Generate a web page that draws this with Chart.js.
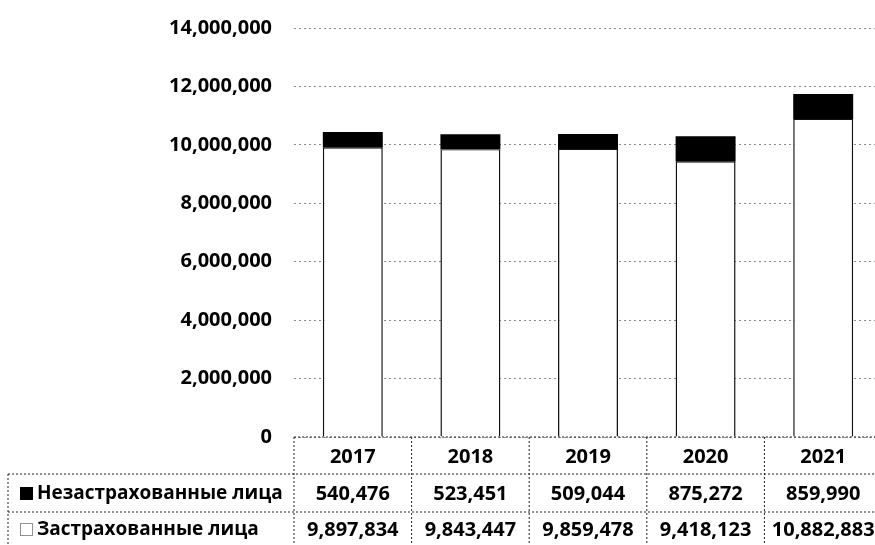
<!DOCTYPE html>
<html lang="ru">
<head>
    <meta charset="UTF-8">
    <title>Застрахованные и незастрахованные лица</title>
    <style>
        html, body {
            margin: 0;
            padding: 0;
            background: #ffffff;
            overflow: hidden;
        }
        #wrap {
            width: 882px;
            height: 545px;
            position: relative;
        }
    </style>
</head>
<body>

<div id="wrap">
    <canvas id="insuranceChart"></canvas>
</div>

<script src="https://cdn.jsdelivr.net/npm/chart.js"></script>
<script>
    // Years and values for each group
    const years = ['2017', '2018', '2019', '2020', '2021'];
    const insured = [9897834, 9843447, 9859478, 9418123, 10882883];
    const uninsured = [540476, 523451, 509044, 875272, 859990];
    const seriesNames = ['Незастрахованные лица', 'Застрахованные лица'];
    const yTicks = [0, 2000000, 4000000, 6000000, 8000000, 10000000, 12000000, 14000000];

    const FONT = '"Open Sans", "Noto Sans", sans-serif';
    const fmt = v => v.toLocaleString('en-US');

    // Data table under the plot: years row plus one row per series
    const dataTable = {
        id: 'dataTable',
        afterDraw(chart) {
            const ctx = chart.ctx;
            const x = chart.scales.x;
            const area = chart.chartArea;
            const colW = x.width / years.length;
            const tableLeft = 8;
            const rowTop = [area.bottom, 474, 512];
            const rowMid = [457, 494, 530];
            const bottom = 545;

            ctx.save();
            ctx.strokeStyle = '#222';
            ctx.lineWidth = 1;
            ctx.setLineDash([2, 2]);

            function line(x1, y1, x2, y2) {
                ctx.beginPath();
                ctx.moveTo(x1, y1);
                ctx.lineTo(x2, y2);
                ctx.stroke();
            }

            // horizontal rules
            line(area.left, rowTop[0], area.right, rowTop[0]);
            line(tableLeft, rowTop[1], area.right, rowTop[1]);
            line(tableLeft, rowTop[2], area.right, rowTop[2]);

            // vertical rules
            line(tableLeft, rowTop[1], tableLeft, bottom);
            for (let i = 0; i <= years.length; i++) {
                const xx = area.left + i * colW;
                line(xx, rowTop[0], xx, bottom);
            }

            ctx.setLineDash([]);
            ctx.fillStyle = '#000';
            ctx.font = 'bold 20px ' + FONT;
            ctx.textAlign = 'center';
            ctx.textBaseline = 'middle';

            const rows = [years, uninsured.map(fmt), insured.map(fmt)];
            rows.forEach((row, r) => {
                row.forEach((txt, i) => {
                    ctx.fillText(txt, x.getPixelForValue(i), rowMid[r]);
                });
            });

            // series keys
            ctx.font = 'bold 19px ' + FONT;
            ctx.textAlign = 'left';
            ctx.fillRect(20, rowMid[1] - 7, 13, 13);
            ctx.fillText(seriesNames[0], 37, rowMid[1]);

            ctx.fillStyle = '#fff';
            ctx.fillRect(20, rowMid[2] - 7, 13, 13);
            ctx.strokeStyle = '#222';
            ctx.setLineDash([1, 1]);
            ctx.strokeRect(20.5, rowMid[2] - 6.5, 12, 12);
            ctx.setLineDash([]);
            ctx.fillStyle = '#000';
            ctx.fillText(seriesNames[1], 37, rowMid[2]);

            ctx.restore();
        }
    };

    const ctx = document.getElementById('insuranceChart').getContext('2d');
    new Chart(ctx, {
        type: 'bar',
        data: {
            labels: years,
            datasets: [
                {
                    label: seriesNames[1],
                    data: insured,
                    backgroundColor: '#ffffff',
                    borderColor: '#111111',
                    borderWidth: { left: 1.5, right: 1.5, top: 1, bottom: 0 },
                    borderSkipped: false,
                    categoryPercentage: 1,
                    barPercentage: 0.51
                },
                {
                    label: seriesNames[0],
                    data: uninsured,
                    backgroundColor: '#000000',
                    borderWidth: 0,
                    categoryPercentage: 1,
                    barPercentage: 0.51
                }
            ]
        },
        options: {
            responsive: true,
            maintainAspectRatio: false,
            animation: false,
            layout: {
                padding: { top: 28, bottom: 108, left: 0, right: 0 }
            },
            plugins: {
                legend: { display: false },
                tooltip: { enabled: false }
            },
            scales: {
                x: {
                    stacked: true,
                    display: false
                },
                y: {
                    stacked: true,
                    min: 0,
                    max: 14000000,
                    afterBuildTicks(scale) {
                        scale.ticks = yTicks.map(v => ({ value: v }));
                    },
                    afterFit(scale) {
                        scale.width = 294;
                        scale.paddingTop = 0;
                        scale.paddingBottom = 0;
                    },
                    grid: {
                        color: '#8a8a8a',
                        lineWidth: 1,
                        drawTicks: false
                    },
                    border: {
                        display: false,
                        dash: [2, 3]
                    },
                    ticks: {
                        padding: 22,
                        color: '#000',
                        font: { family: FONT, size: 20, weight: 'bold' },
                        callback: v => fmt(v)
                    }
                }
            }
        },
        plugins: [dataTable]
    });
</script>
</body>
</html>
